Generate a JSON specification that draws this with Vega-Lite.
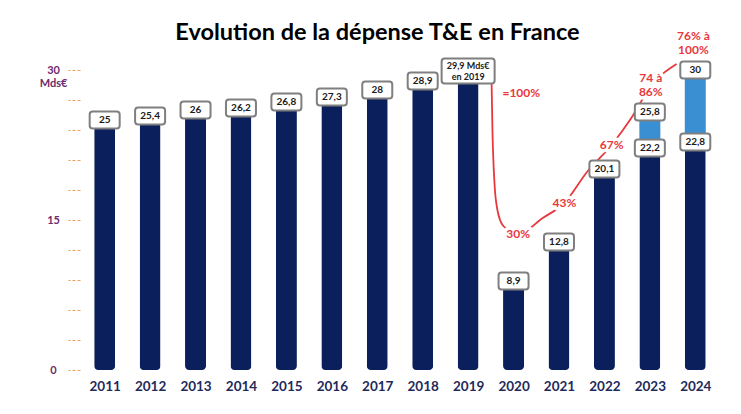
{
  "$schema": "https://vega.github.io/schema/vega-lite/v6.json",
  "width": 643,
  "height": 300,
  "autosize": "none",
  "padding": {"left": 80, "top": 70, "right": 18, "bottom": 44},
  "background": "white",
  "title": {
    "text": "Evolution de la dépense T&E en France",
    "font": "Lato",
    "fontSize": 23.5,
    "fontWeight": "bold",
    "color": "#000000",
    "anchor": "middle",
    "dx": -24,
    "offset": -14
  },
  "config": {
    "view": {"stroke": null},
    "locale": {"number": {"decimal": ",", "thousands": " ", "grouping": [3], "currency": ["", " €"]}}
  },
  "datasets": {
    "spend": [
      {"year": 2011, "value": 25},
      {"year": 2012, "value": 25.4},
      {"year": 2013, "value": 26},
      {"year": 2014, "value": 26.2},
      {"year": 2015, "value": 26.8},
      {"year": 2016, "value": 27.3},
      {"year": 2017, "value": 28},
      {"year": 2018, "value": 28.9},
      {"year": 2019, "value": 29.9},
      {"year": 2020, "value": 8.9},
      {"year": 2021, "value": 12.8},
      {"year": 2022, "value": 20.1},
      {"year": 2023, "value": 22.2, "upper": 25.8},
      {"year": 2024, "value": 22.8, "upper": 30}
    ],
    "trend": [
      {"year": 2019.515, "level": 29.0},
      {"year": 2019.537, "level": 23.7},
      {"year": 2019.58, "level": 18.7},
      {"year": 2019.645, "level": 16.0},
      {"year": 2019.775, "level": 14.4},
      {"year": 2020.1, "level": 13.6},
      {"year": 2020.642, "level": 15.2},
      {"year": 2021.118, "level": 16.7},
      {"year": 2021.617, "level": 19.8},
      {"year": 2022.158, "level": 22.5},
      {"year": 2022.592, "level": 25.2},
      {"year": 2023.025, "level": 28.4},
      {"year": 2023.588, "level": 30.6}
    ],
    "notes": [
      {"year": 2020.17, "level": 27.7, "note": "=100%"},
      {"year": 2020.1, "level": 13.6, "note": "30%"},
      {"year": 2021.12, "level": 16.7, "note": "43%"},
      {"year": 2022.16, "level": 22.5, "note": "67%"},
      {"year": 2023.02, "level": 29.2, "note": "74 à\n86%"},
      {"year": 2023.96, "level": 33.4, "note": "76% à\n100%"}
    ]
  },
  "layer": [
    {
      "data": {"name": "spend"},
      "mark": {"type": "bar", "orient": "vertical", "width": 21, "cornerRadius": 4, "color": "#0B1F5C"},
      "encoding": {
        "x": {
          "field": "year", "type": "quantitative",
          "scale": {"domain": [2010.567, 2024.5], "nice": false, "zero": false},
          "axis": {
            "title": null, "values": [2011, 2012, 2013, 2014, 2015, 2016, 2017, 2018, 2019, 2020, 2021, 2022, 2023, 2024],
            "tickCount": 30,
            "format": "d", "domain": false, "ticks": false, "grid": false,
            "labelFont": "Lato", "labelFontSize": 13.5, "labelFontWeight": "bold", "labelColor": "#1F2A5A",
            "labelPadding": 9, "labelFlush": false, "labelOverlap": false
          }
        },
        "y": {
          "field": "value", "type": "quantitative",
          "scale": {"domain": [0, 30], "nice": false},
          "axis": {
            "title": null, "values": [0, 3, 6, 9, 12, 15, 18, 21, 24, 27, 30],
            "tickCount": 20,
            "domain": false, "grid": false,
            "tickColor": "#F0A050", "tickDash": [3, 2], "tickSize": 12, "tickWidth": 1,
            "labelExpr": "datum.value == 30 ? ['30', 'Mds€'] : (datum.value % 15 == 0 ? datum.label : '')",
            "labelFont": "Lato", "labelFontSize": 11, "labelFontWeight": "bold", "labelColor": "#6E2C6E",
            "labelAlign": "center", "labelPadding": 15, "labelOverlap": false, "labelBound": false,
            "labelLineHeight": 13,
            "labelBaseline": {"condition": {"test": "datum.value == 30", "value": "top"}, "value": "middle"},
            "labelOffset": {"condition": {"test": "datum.value == 30", "value": -6}, "value": 0}
          }
        }
      }
    },
    {
      "data": {"name": "spend"},
      "transform": [{"filter": "isValid(datum.upper)"}],
      "mark": {"type": "bar", "orient": "vertical", "width": 21, "color": "#3A8FD3"},
      "encoding": {
        "x": {"field": "year", "type": "quantitative"},
        "y": {"field": "value", "type": "quantitative"},
        "y2": {"field": "upper"}
      }
    },
    {
      "data": {"name": "trend"},
      "mark": {"type": "line", "color": "#E8383D", "strokeWidth": 1.8, "interpolate": "monotone"},
      "encoding": {
        "x": {"field": "year", "type": "quantitative"},
        "y": {"field": "level", "type": "quantitative"}
      }
    },
    {
      "data": {"name": "notes"},
      "mark": {"type": "text", "font": "Lato", "fontSize": 12, "fontWeight": "bold", "lineBreak": "\n", "lineHeight": 14,
               "stroke": "white", "strokeWidth": 7, "strokeJoin": "round", "fill": "white", "baseline": "middle"},
      "encoding": {
        "x": {"field": "year", "type": "quantitative"},
        "y": {"field": "level", "type": "quantitative"},
        "text": {"field": "note"}
      }
    },
    {
      "data": {"name": "notes"},
      "mark": {"type": "text", "font": "Lato", "fontSize": 12, "fontWeight": "bold", "lineBreak": "\n", "lineHeight": 14,
               "fill": "#E8383D", "baseline": "middle"},
      "encoding": {
        "x": {"field": "year", "type": "quantitative"},
        "y": {"field": "level", "type": "quantitative"},
        "text": {"field": "note"}
      }
    },
    {
      "data": {"name": "spend"},
      "transform": [{"filter": "datum.year != 2019"}],
      "mark": {"type": "point", "filled": true, "fill": "white", "stroke": "#7F7F7F", "strokeWidth": 2, "opacity": 1, "size": 900,
               "shape": "M -0.8 -0.567 H 0.8 Q 1 -0.567 1 -0.367 V 0.367 Q 1 0.567 0.8 0.567 H -0.8 Q -1 0.567 -1 0.367 V -0.367 Q -1 -0.567 -0.8 -0.567 Z"},
      "encoding": {
        "x": {"field": "year", "type": "quantitative"},
        "y": {"field": "value", "type": "quantitative"}
      }
    },
    {
      "data": {"name": "spend"},
      "transform": [{"filter": "isValid(datum.upper)"}],
      "mark": {"type": "point", "filled": true, "fill": "white", "stroke": "#7F7F7F", "strokeWidth": 2, "opacity": 1, "size": 900,
               "shape": "M -0.8 -0.567 H 0.8 Q 1 -0.567 1 -0.367 V 0.367 Q 1 0.567 0.8 0.567 H -0.8 Q -1 0.567 -1 0.367 V -0.367 Q -1 -0.567 -0.8 -0.567 Z"},
      "encoding": {
        "x": {"field": "year", "type": "quantitative"},
        "y": {"field": "upper", "type": "quantitative"}
      }
    },
    {
      "data": {"name": "spend"},
      "transform": [{"filter": "datum.year == 2019"}],
      "mark": {"type": "point", "filled": true, "fill": "white", "stroke": "#7F7F7F", "strokeWidth": 2, "opacity": 1, "size": 2809,
               "shape": "M -0.887 -0.472 H 0.887 Q 1 -0.472 1 -0.359 V 0.359 Q 1 0.472 0.887 0.472 H -0.887 Q -1 0.472 -1 0.359 V -0.359 Q -1 -0.472 -0.887 -0.472 Z"},
      "encoding": {
        "x": {"field": "year", "type": "quantitative"},
        "y": {"field": "value", "type": "quantitative"}
      }
    },
    {
      "data": {"name": "spend"},
      "transform": [{"filter": "datum.year != 2019"}],
      "mark": {"type": "text", "font": "Lato", "fontSize": 10, "fontWeight": "bold", "fill": "#1A1A1A", "baseline": "middle"},
      "encoding": {
        "x": {"field": "year", "type": "quantitative"},
        "y": {"field": "value", "type": "quantitative"},
        "text": {"field": "value", "type": "quantitative", "format": "~g"}
      }
    },
    {
      "data": {"name": "spend"},
      "transform": [{"filter": "isValid(datum.upper)"}],
      "mark": {"type": "text", "font": "Lato", "fontSize": 10, "fontWeight": "bold", "fill": "#1A1A1A", "baseline": "middle"},
      "encoding": {
        "x": {"field": "year", "type": "quantitative"},
        "y": {"field": "upper", "type": "quantitative"},
        "text": {"field": "upper", "type": "quantitative", "format": "~g"}
      }
    },
    {
      "data": {"name": "spend"},
      "transform": [{"filter": "datum.year == 2019"}],
      "mark": {"type": "text", "font": "Lato", "fontSize": 9, "fontWeight": "bold", "fill": "#1A1A1A", "baseline": "middle",
               "lineHeight": 11, "dy": -5.5,
               "text": {"expr": "[format(datum.value, '~g') + ' Mds€', 'en ' + datum.year]"}},
      "encoding": {
        "x": {"field": "year", "type": "quantitative"},
        "y": {"field": "value", "type": "quantitative"}
      }
    }
  ]
}
